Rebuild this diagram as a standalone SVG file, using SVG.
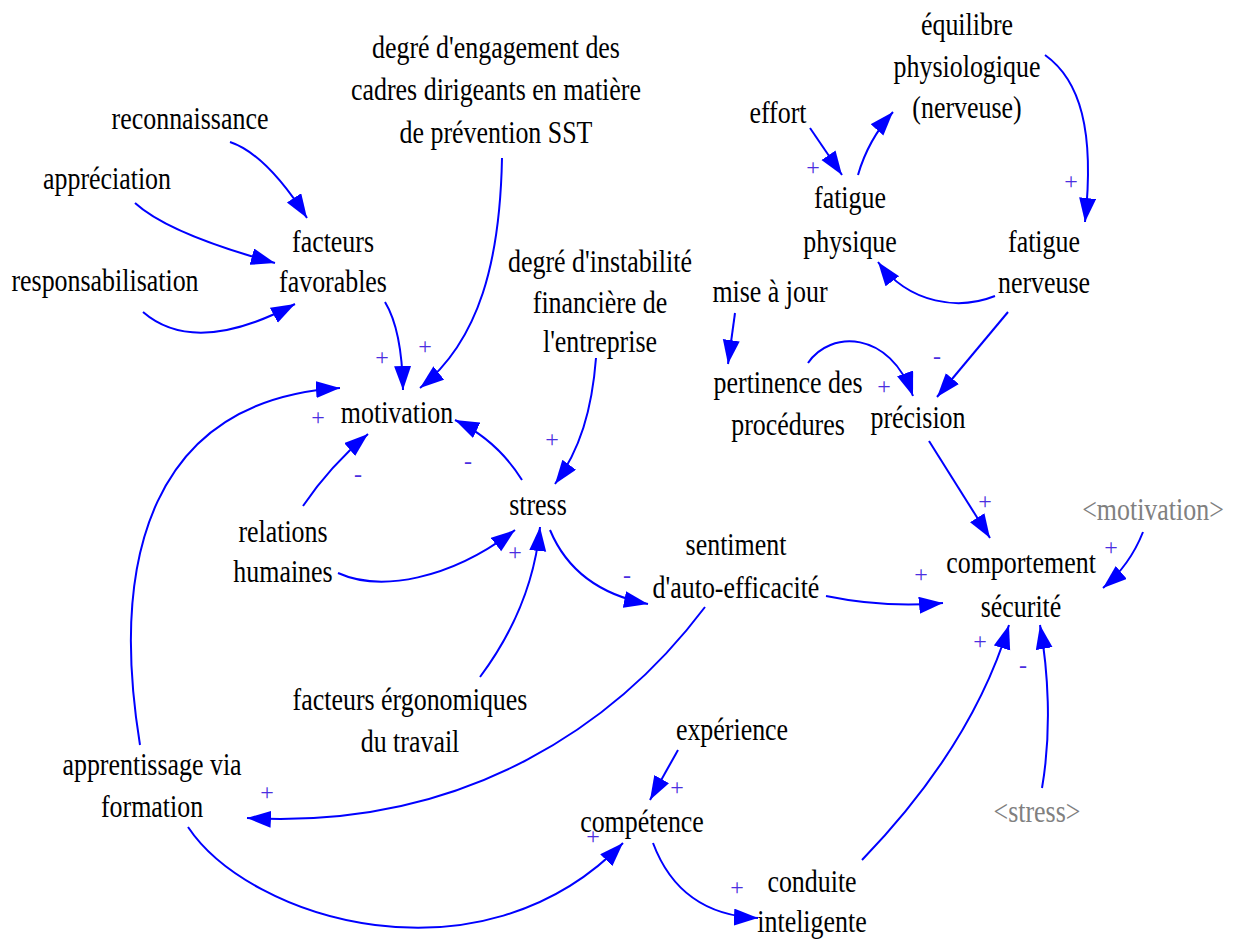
<svg xmlns="http://www.w3.org/2000/svg" width="1233" height="941" viewBox="0 0 1233 941">
<style>
.n text{font-family:"Liberation Serif","Times New Roman",serif;font-size:32px;fill:#000;text-anchor:middle}
.g text{fill:#808080}
.c path{fill:none;stroke:#0000ff;stroke-width:2;marker-end:url(#ah)}
.s text{font-family:"Liberation Serif","Times New Roman",serif;font-size:24px;fill:#4a2ee0;text-anchor:middle}
</style>
<defs>
<marker id="ah" markerUnits="userSpaceOnUse" markerWidth="26" markerHeight="18" refX="24" refY="8.5" orient="auto" viewBox="0 0 26 18">
<path d="M0,0 L24,8.5 L0,17 z" fill="#0000ff"/>
</marker>
</defs>
<rect width="1233" height="941" fill="#ffffff"/>

<g class="c" id="connectors">
<path d="M230,142 Q266,154 307,218"/>
<path d="M135,203 Q169,234 275,263"/>
<path d="M143,312 Q195,357 295,304"/>
<path d="M385,302 Q402,330 403,390"/>
<path d="M502,158 C500,260 480,340 420,388"/>
<path d="M140,745 C110,560 150,400 340,388"/>
<path d="M303,506 Q330,466 368,434"/>
<path d="M522,480 Q497,440 455,420"/>
<path d="M596,358 C592,410 580,450 555,484"/>
<path d="M338,573 C380,592 450,580 515,530"/>
<path d="M480,677 C515,630 535,580 540,527"/>
<path d="M550,530 Q575,590 648,604"/>
<path d="M826,596 C860,603 900,607 943,603"/>
<path d="M705,607 C620,720 470,830 247,818"/>
<path d="M188,827 C250,920 480,990 623,843"/>
<path d="M678,750 L650,800"/>
<path d="M653,843 Q680,915 758,918"/>
<path d="M862,860 C920,800 980,720 1009,625"/>
<path d="M1042,788 C1052,730 1048,670 1040,625"/>
<path d="M1143,532 Q1130,565 1103,588"/>
<path d="M929,441 L990,538"/>
<path d="M808,363 C830,330 890,330 913,396"/>
<path d="M1008,312 L937,397"/>
<path d="M735,313 L728,364"/>
<path d="M995,296 C960,310 910,305 878,262"/>
<path d="M810,128 L842,175"/>
<path d="M858,175 Q868,140 893,112"/>
<path d="M1045,55 C1080,80 1095,130 1085,222"/>
</g>

<g class="s" id="polarities">
<text x="382" y="365">+</text>
<text x="425" y="354">+</text>
<text x="318" y="425">+</text>
<text x="358" y="482">-</text>
<text x="468" y="469">-</text>
<text x="552" y="447">+</text>
<text x="515" y="560">+</text>
<text x="627" y="583">-</text>
<text x="921" y="582">+</text>
<text x="267" y="800">+</text>
<text x="593" y="844">+</text>
<text x="677" y="795">+</text>
<text x="737" y="895">+</text>
<text x="980" y="649">+</text>
<text x="1023" y="673">-</text>
<text x="1111" y="555">+</text>
<text x="985" y="509">+</text>
<text x="884" y="394">+</text>
<text x="937" y="364">-</text>
<text x="813" y="175">+</text>
<text x="1071" y="189">+</text>
</g>

<g class="n" id="n-degre-engagement" transform="translate(496 0) scale(0.81 1)"><text><tspan x="0" y="58">degré d'engagement des</tspan><tspan x="0" y="100">cadres dirigeants en matière</tspan><tspan x="0" y="143">de prévention SST</tspan></text></g>
<g class="n" id="n-reconnaissance" transform="translate(190 0) scale(0.81 1)"><text x="0" y="129">reconnaissance</text></g>
<g class="n" id="n-appreciation" transform="translate(107 0) scale(0.81 1)"><text x="0" y="189">appréciation</text></g>
<g class="n" id="n-responsabilisation" transform="translate(105 0) scale(0.81 1)"><text x="0" y="291">responsabilisation</text></g>
<g class="n" id="n-facteurs-favorables" transform="translate(333 0) scale(0.81 1)"><text><tspan x="0" y="252">facteurs</tspan><tspan x="0" y="292">favorables</tspan></text></g>
<g class="n" id="n-motivation" transform="translate(397 0) scale(0.81 1)"><text x="0" y="423">motivation</text></g>
<g class="n" id="n-stress" transform="translate(538 0) scale(0.81 1)"><text x="0" y="515">stress</text></g>
<g class="n" id="n-relations-humaines" transform="translate(283 0) scale(0.81 1)"><text><tspan x="0" y="542">relations</tspan><tspan x="0" y="582">humaines</tspan></text></g>
<g class="n" id="n-instabilite" transform="translate(600 0) scale(0.81 1)"><text><tspan x="0" y="272">degré d'instabilité</tspan><tspan x="0" y="313">financière de</tspan><tspan x="0" y="352">l'entreprise</tspan></text></g>
<g class="n" id="n-sentiment" transform="translate(736 0) scale(0.81 1)"><text><tspan x="0" y="555">sentiment</tspan><tspan x="0" y="598">d'auto-efficacité</tspan></text></g>
<g class="n" id="n-ergonomiques" transform="translate(410 0) scale(0.81 1)"><text><tspan x="0" y="710">facteurs érgonomiques</tspan><tspan x="0" y="752">du travail</tspan></text></g>
<g class="n" id="n-apprentissage" transform="translate(152 0) scale(0.81 1)"><text><tspan x="0" y="775">apprentissage via</tspan><tspan x="0" y="817">formation</tspan></text></g>
<g class="n" id="n-experience" transform="translate(732 0) scale(0.81 1)"><text x="0" y="740">expérience</text></g>
<g class="n" id="n-competence" transform="translate(642 0) scale(0.81 1)"><text x="0" y="832">compétence</text></g>
<g class="n" id="n-conduite" transform="translate(812 0) scale(0.81 1)"><text><tspan x="0" y="892">conduite</tspan><tspan x="0" y="932">inteligente</tspan></text></g>
<g class="n" id="n-comportement" transform="translate(1021 0) scale(0.81 1)"><text><tspan x="0" y="573">comportement</tspan><tspan x="0" y="617">sécurité</tspan></text></g>
<g class="n g" id="n-motivation-shadow" transform="translate(1153 0) scale(0.81 1)"><text x="0" y="520">&lt;motivation&gt;</text></g>
<g class="n g" id="n-stress-shadow" transform="translate(1037 0) scale(0.81 1)"><text x="0" y="822">&lt;stress&gt;</text></g>
<g class="n" id="n-effort" transform="translate(778 0) scale(0.81 1)"><text x="0" y="123">effort</text></g>
<g class="n" id="n-equilibre" transform="translate(967 0) scale(0.81 1)"><text><tspan x="0" y="35">équilibre</tspan><tspan x="0" y="77">physiologique</tspan><tspan x="0" y="118">(nerveuse)</tspan></text></g>
<g class="n" id="n-fatigue-physique" transform="translate(850 0) scale(0.81 1)"><text><tspan x="0" y="208">fatigue</tspan><tspan x="0" y="252">physique</tspan></text></g>
<g class="n" id="n-fatigue-nerveuse" transform="translate(1044 0) scale(0.81 1)"><text><tspan x="0" y="252">fatigue</tspan><tspan x="0" y="293">nerveuse</tspan></text></g>
<g class="n" id="n-mise-a-jour" transform="translate(770 0) scale(0.81 1)"><text x="0" y="302">mise à jour</text></g>
<g class="n" id="n-pertinence" transform="translate(788 0) scale(0.81 1)"><text><tspan x="0" y="393">pertinence des</tspan><tspan x="0" y="435">procédures</tspan></text></g>
<g class="n" id="n-precision" transform="translate(918 0) scale(0.81 1)"><text x="0" y="428">précision</text></g>
</svg>
